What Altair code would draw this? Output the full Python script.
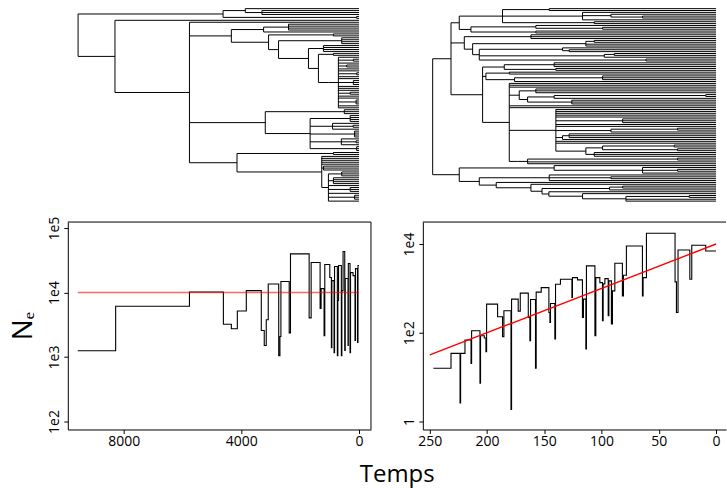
import altair as alt
import pandas as pd

# ---------------- data: left panel (constant population) ----------------
left_breaks = [9560, 8272, 5763, 4610, 4339, 4136, 3831, 3322, 3221, 3153, 3085, 2729, 2688, 2654,
               2373, 2329, 1695, 1627, 1322, 1288, 1187, 1163, 993, 939, 922, 848, 831, 736, 719, 695,
               600, 583, 542, 485, 468, 373, 363, 305, 288, 203, 136, 119, 51, 34, 0]
left_ne = [1250, 6140, 10200, 3230, 2750, 5160, 10700, 2580, 1510, 3780, 13600, 1050, 2080, 14800,
           2370, 39800, 4050, 29200, 5650, 11500, 2150, 27200, 17100, 1400, 15300, 1170, 25300, 1050,
           7520, 26200, 1050, 10700, 43300, 1260, 16500, 1510, 28200, 1170, 20400, 18300, 1800, 23500,
           1680, 26200]
left_true_t = [9560, 0]
left_true_ne = [10000, 10000]

# ---------------- data: right panel (exponential growth) ----------------
right_breaks = [246.9, 231.5, 223.6, 223.1, 219.3, 214.0, 213.5, 206.2, 205.7, 202.4, 201.0, 200.4,
                190.8, 186.5, 185.3, 179.1, 178.6, 172.8, 171.0, 164.0, 162.6, 162.0, 157.7, 157.1,
                152.7, 146.0, 145.1, 144.6, 140.8, 140.2, 135.9, 125.9, 125.4, 121.0, 116.7, 115.8,
                113.7, 113.2, 105.8, 105.0, 101.5, 99.2, 98.6, 97.1, 94.2, 93.6, 91.4, 90.5, 88.4,
                81.8, 80.9, 78.3, 64.3, 63.7, 60.8, 35.8, 34.6, 33.2, 22.9, 21.2, 9.0, 0]
right_ne = [15.8, 34.3, 2.63, 34.3, 68.6, 20.4, 111, 7.26, 85.6, 76.0, 37.4, 442, 229, 81.3, 312,
            1.86, 572, 307, 780, 221, 66.1, 560, 15.8, 822, 1042, 286, 170, 455, 72.2, 1242, 1610,
            621, 1750, 1553, 221, 572, 43, 3205, 85.6, 1750, 1350, 186, 1262, 1660, 241, 1474, 157,
            879, 3680, 678, 1982, 9020, 678, 1750, 17400, 1400, 286, 7330, 1610, 9350, 6960]
right_true_t = [250, 0]
right_true_ne = [31.6, 10000]

# ---------------- data: genealogies ([node time, children...], tip = 0) ----------------
left_tree = [9549,
             [4621, [3865, 0, [3300, 0, 0, 0]], [79, 0, 0]],
             [8295, 0,
              [5763, 0,
               [4339,
                [3243, [2396, 0, 0, 0, 0], 0],
                [3074, [870, 0, 0],
                 [2735, [588, 0, 0, 0, 0],
                  [1718, [1209, 0, 0, 0, 0],
                   [1379, [870, 0, 0],
                    [1040, [701, 0, [192, 0, 0], 0, [418, 0, 0], 0, 0, [79, 0, 0], 0, 0,
                            [192, 0, 0, 0], 0, 0, 0, [300, 0, 0], 0, 0, [100, 0, 0, 0], 0, 0]]]]]]],
               [3186, [500, 0, 0, 0],
                [1661, [300, 0, 0, 0, 0], [900, 0, [200, 0, 0], 0], [150, 0, 0, 0, 0],
                 [600, 0, [100, 0, 0], 0], [80, 0, 0, 0]]],
               [4147, [870, 0, 0],
                [1266, 0, 0, 0, 0, 0, [1209, 0, 0, 0],
                 [1040, [588, 0, 0, 0], [870, 0, 0, 0, 0], 0, [300, 0, 0, 0], 0, [150, 0, 0, 0], 0]]]]]]

right_tree = [247.5,
              [231.5,
               [224.3,
                [186.5, [145.7, 0, 0], [116.6, 0, [91.8, 0, [64.2, 0, 0]], 0], [106.4, 0, 0]],
                [214.1, [157.4, 0, [99.1, 0, 0]], [157.4, 0, 0]]],
               [219.9, [161.7, 0, 0, 0],
                [212.6, [113.7, [106.4, 0, 0], 0, 0],
                 [206.8, [134.1, 0, [128.3, 0, 0]], [97.6, [88.9, 0, 0], 0], [61.2, 0, 0]]]],
               [203.9,
                [185.0, [141.4, 0, 0, 0], [139.9, 0, 0]],
                [201.0, [180.6, 0, 0], [176.0, [99.1, 0, 0, 0], 0]],
                [180.6, 0, 0, 0,
                 [171.9, [157.4, 0, 0, 0], [164.6, [141.4, [8.9, 0, 0], 0], [126.0, 0, 0, 0]]],
                 0, 0,
                 [139.9, 0, 0, 0, 0, 0, [81.6, 0, 0, 0], 0, 0, [91.8, [33.6, 0, 0], 0],
                  [134.1, [128.3, 0, 0, 0], 0], 0, 0,
                  [113.7, [99.1, [36.5, 0, 0], [33.6, 0, 0]], [106.4, 0, 0, 0]]],
                 [173.4, [164.6, [33.6, 0, 0], 0, 0]]]]],
              [224.3,
               [141.4, 0, [64.2, 0, [33.6, 0, 0], 0]],
               [206.8, [145.7, 0, [91.8, 0, 0], 0],
                [192.0, 0, [161.7, 0, [152.0, [93.0, [81.6, 0, 0], 0],
                                      [146.0, 0, [116.6, 0, [78.7, [23.4, 0, 0], 0, 0]]]]]]]]]

# ---------------- helpers ----------------
W, HP, HT = 304, 208, 207
LEFT_X = [-407, 9898]
RIGHT_X = [-8.7, 256.1]
LEFT_Y = [75.2, 123900]
RIGHT_Y = [0.661, 31200]


def step_frame(breaks, ne):
    rows, k = [], 0
    for i, v in enumerate(ne):
        rows.append({"t": breaks[i], "ne": v, "o": k}); k += 1
        rows.append({"t": breaks[i + 1], "ne": v, "o": k}); k += 1
    return pd.DataFrame(rows)


def tree_frame(tree):
    segs, count = [], [0]

    def walk(node):
        if node == 0:
            y = count[0]
            count[0] += 1
            return 0.0, float(y)
        t = node[0]
        kids = [walk(c) for c in node[1:]]
        ys = [k[1] for k in kids]
        for ct, cy in kids:
            segs.append({"x": t, "x2": ct, "y": cy, "y2": cy})
        segs.append({"x": t, "x2": t, "y": min(ys), "y2": max(ys)})
        return t, (min(ys) + max(ys)) / 2

    walk(tree)
    return pd.DataFrame(segs), count[0]


def tree_chart(tree, xdom):
    df, n = tree_frame(tree)
    s = 193.0 / (n - 1)
    d0 = -7.0 / s
    d1 = d0 + HT / s
    return alt.Chart(df).mark_rule(color="black", strokeWidth=1).encode(
        x=alt.X("x:Q", scale=alt.Scale(domain=xdom, reverse=True, nice=False, zero=False), axis=None),
        x2="x2:Q",
        y=alt.Y("y:Q", scale=alt.Scale(domain=[d0, d1], reverse=True, nice=False, zero=False), axis=None),
        y2="y2:Q",
    ).properties(width=W, height=HT)


def box_rules(right=True):
    one = pd.DataFrame({"k": [0]})
    top = alt.Chart(one).mark_rule(color="black", strokeWidth=1).encode(
        x=alt.value(0), x2=alt.value(W), y=alt.value(0))
    if not right:
        return [top]
    side = alt.Chart(one).mark_rule(color="black", strokeWidth=1).encode(
        x=alt.value(W), y=alt.value(0), y2=alt.value(HP))
    return [top, side]


def panel(breaks, ne, tt, tne, xdom, ydom, xvals, yvals, red_opacity, ytitle, right_box):
    xs = alt.Scale(domain=xdom, reverse=True, nice=False, zero=False)
    ys = alt.Scale(type="log", domain=ydom, nice=False)
    yaxis_kw = dict(values=yvals,
                    labelExpr="datum.value == 1 ? '1' : '1e' + round(log(datum.value) / LN10)",
                    labelAngle=270, labelAlign="center", labelBaseline="bottom", labelPadding=2)
    if ytitle:
        yaxis = alt.Axis(title=ytitle, titleFontSize=28, titleAngle=270, titlePadding=10, **yaxis_kw)
    else:
        yaxis = alt.Axis(title=None, **yaxis_kw)
    xaxis = alt.Axis(values=xvals, format="d", title=None, labelFlush=False, labelPadding=1)
    step = alt.Chart(step_frame(breaks, ne)).mark_line(color="black", strokeWidth=1.1).encode(
        x=alt.X("t:Q", scale=xs, axis=xaxis),
        y=alt.Y("ne:Q", scale=ys, axis=yaxis),
        order="o:Q",
    )
    red = alt.Chart(pd.DataFrame({"t": tt, "ne": tne})).mark_line(
        color="#ff0000", strokeWidth=1.4, opacity=red_opacity).encode(
        x=alt.X("t:Q", scale=xs), y=alt.Y("ne:Q", scale=ys))
    return alt.layer(step, red, *box_rules(right_box)).properties(width=W, height=HP)


treeL = tree_chart(left_tree, LEFT_X)
treeR = tree_chart(right_tree, RIGHT_X)
plotL = panel(left_breaks, left_ne, left_true_t, left_true_ne, LEFT_X, LEFT_Y,
              [0, 4000, 8000], [100, 1000, 10000, 100000], 0.6, "Nₑ", True)
plotR = panel(right_breaks, right_ne, right_true_t, right_true_ne, RIGHT_X, RIGHT_Y,
              [0, 50, 100, 150, 200, 250], [1, 100, 10000], 1.0, None, False)

chart = alt.concat(
    treeL, treeR, plotL, plotR, columns=2, spacing={"row": 14, "column": 52}, bounds="flush"
).properties(
    title=alt.TitleParams("Temps", orient="bottom", anchor="middle", fontSize=24, dx=29,
                          font="Open Sans", fontWeight="normal", color="black", offset=14),
    padding={"left": 9, "top": 0, "right": 0, "bottom": 0},
).configure_view(stroke="transparent").configure_axis(
    labelFont="Open Sans", labelFontSize=14, labelColor="black", tickColor="black",
    domainColor="black", tickSize=4, grid=False, titleFont="Open Sans",
    titleFontWeight="normal", titleColor="black", domainWidth=1, tickWidth=1,
)

chart.save("out.html", embed_options={"renderer": "svg", "actions": False})
